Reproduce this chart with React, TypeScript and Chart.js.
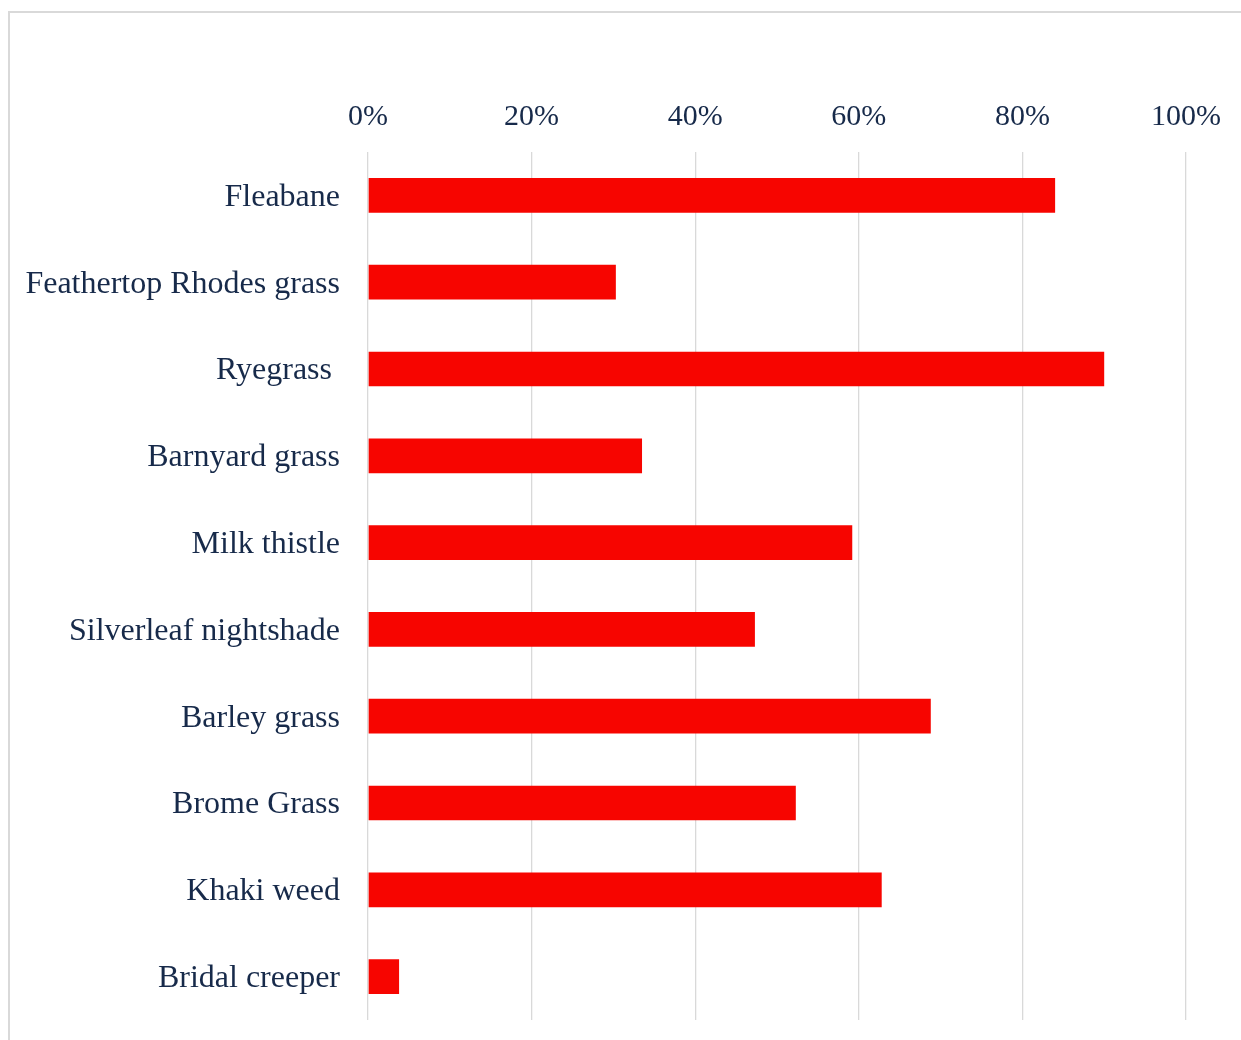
import React, { useEffect, useRef } from "react";
import { Chart, registerables } from "chart.js";

Chart.register(...registerables);

const categories = [
  "Fleabane",
  "Feathertop Rhodes grass",
  "Ryegrass ",
  "Barnyard grass",
  "Milk thistle",
  "Silverleaf nightshade",
  "Barley grass",
  "Brome Grass",
  "Khaki weed",
  "Bridal creeper",
];

const values = [84.0, 30.3, 90.0, 33.5, 59.2, 47.3, 68.8, 52.3, 62.8, 3.8];

const xTicks = [0, 20, 40, 60, 80, 100];

const TEXT = "#172A4A";
const FONT = "'Liberation Serif', 'Times New Roman', serif";

export default function App() {
  const ref = useRef<HTMLCanvasElement | null>(null);

  useEffect(() => {
    if (!ref.current) return;
    const chart = new Chart(ref.current, {
      type: "bar",
      data: {
        labels: categories,
        datasets: [
          {
            data: values,
            backgroundColor: "#F70500",
            borderWidth: 0,
            barPercentage: 0.4,
            categoryPercentage: 1,
          },
        ],
      },
      options: {
        indexAxis: "y",
        responsive: false,
        animation: false,
        layout: { padding: { left: 0, right: 55, top: 0, bottom: 20 } },
        plugins: { legend: { display: false }, tooltip: { enabled: false } },
        scales: {
          x: {
            position: "top",
            min: 0,
            max: 100,
            afterBuildTicks: (scale: any) => {
              scale.ticks = xTicks.map((v) => ({ value: v }));
            },
            afterFit: (scale: any) => {
              scale.height = 152;
              scale.paddingLeft = 0;
              scale.paddingRight = 0;
            },
            grid: { color: "#D9D9D9", lineWidth: 1.3, drawTicks: false },
            border: { display: false },
            ticks: {
              padding: 17,
              color: TEXT,
              font: { family: FONT, size: 30 },
              callback: (v: any) => v + "%",
            },
          },
          y: {
            afterFit: (scale: any) => {
              scale.width = 368;
              scale.paddingTop = 0;
              scale.paddingBottom = 0;
            },
            grid: { display: false, drawTicks: false },
            border: { display: false },
            ticks: {
              padding: 28,
              labelOffset: 2,
              color: TEXT,
              font: { family: FONT, size: 32 },
            },
          },
        },
      },
    });
    return () => chart.destroy();
  }, []);

  return (
    <div>
      <div
        style={{
          position: "fixed",
          left: 8,
          top: 11,
          width: 1233,
          height: 1029,
          borderLeft: "2px solid #D9D9D9",
          borderTop: "2px solid #D9D9D9",
          boxSizing: "border-box",
        }}
      />
      <canvas
        ref={ref}
        width={1241}
        height={1040}
        style={{ position: "fixed", left: 0, top: 0, width: 1241, height: 1040 }}
      />
    </div>
  );
}
